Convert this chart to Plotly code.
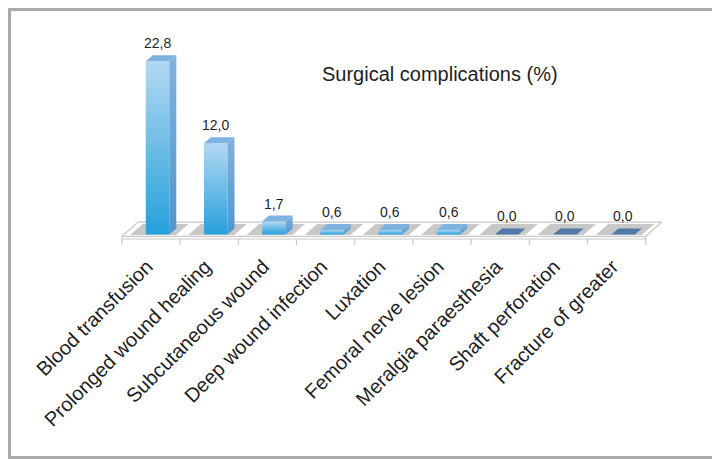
import plotly.graph_objects as go

categories = ["Blood transfusion", "Prolonged wound healing", "Subcutaneous wound",
              "Deep wound infection", "Luxation", "Femoral nerve lesion",
              "Meralgia paraesthesia", "Shaft perforation", "Fracture of greater"]
values = [22.8, 12.0, 1.7, 0.6, 0.6, 0.6, 0.0, 0.0, 0.0]
value_text = [("%.1f" % v).replace('.', ',') for v in values]

# 3d look, in axis units
bar_x0 = -0.09
bar_w = 0.405
dep_x = 0.12
dep_y = 0.79

# the page puts the figure 8px in from the top left corner
W, H = 712, 451
ML, MT, PW, PH = 92, 22, 600, 220

if __name__ == '__main__':

    fig = go.Figure()
    n = len(categories)

    # floor slab
    fl_front_top = -0.26
    fl_front_bot = -0.59
    fl_back = 1.64
    fl_shift = 0.275
    fig.add_trace(go.Scatter(
        x=[-0.5, n - 0.5, n - 0.5, n - 0.5 + fl_shift, -0.5 + fl_shift, -0.5, -0.5, None, -0.5, n - 0.5],
        y=[fl_front_bot, fl_front_bot, fl_front_top, fl_back, fl_back, fl_front_top, fl_front_bot, None,
           fl_front_top, fl_front_top],
        mode='lines', line=dict(color='rgb(200,200,200)', width=1.2),
        fill='toself', fillcolor='white', showlegend=False, hoverinfo='skip'))

    # tick marks on the front edge
    tx, ty = [], []
    for k in range(n + 1):
        tx += [k - 0.5, k - 0.5, None]
        ty += [fl_front_bot, fl_front_bot - 0.8, None]
    fig.add_trace(go.Scatter(x=tx, y=ty, mode='lines', line=dict(color='rgb(200,200,200)', width=1.2),
                             showlegend=False, hoverinfo='skip'))

    # grey tile under each category
    t_front = -0.07
    t_back = 1.38
    t_shift = 0.216
    gx, gy = [], []
    for i in range(n):
        a, b = i - 0.36, i + 0.43
        gx += [a, b, b + t_shift, a + t_shift, a, None]
        gy += [t_front, t_front, t_back, t_back, t_front, None]
    fig.add_trace(go.Scatter(x=gx, y=gy, mode='lines', line=dict(width=0),
                             fill='toself', fillcolor='rgb(200,200,200)', showlegend=False, hoverinfo='skip'))

    for i, v in enumerate(values):
        x0 = i + bar_x0
        x1 = x0 + bar_w
        if v > 0:
            # front
            fig.add_trace(go.Scatter(
                x=[x0, x1, x1, x0, x0], y=[0, 0, v, v, 0],
                mode='lines', line=dict(width=0), fill='toself',
                fillgradient=dict(type='vertical',
                                  colorscale=[[0, 'rgb(38,160,219)'], [1, 'rgb(178,216,242)']]),
                showlegend=False, hoverinfo='skip'))
            # side
            fig.add_trace(go.Scatter(
                x=[x1, x1 + dep_x, x1 + dep_x, x1, x1], y=[0, dep_y, v + dep_y, v, 0],
                mode='lines', line=dict(width=0), fill='toself',
                fillgradient=dict(type='vertical',
                                  colorscale=[[0, 'rgb(80,150,205)'], [1, 'rgb(130,178,222)']]),
                showlegend=False, hoverinfo='skip'))
            top_col = 'rgb(125,178,225)'
        else:
            top_col = 'rgb(79,121,166)'
        # top
        fig.add_trace(go.Scatter(
            x=[x0, x1, x1 + dep_x, x0 + dep_x, x0], y=[v, v, v + dep_y, v + dep_y, v],
            mode='lines', line=dict(width=0), fill='toself', fillcolor=top_col,
            showlegend=False, hoverinfo='skip'))

        fig.add_annotation(x=x0 + bar_w / 2, y=v, text=value_text[i], showarrow=False,
                           yanchor='bottom', yshift=8 if v > 0 else 9,
                           font=dict(size=14, color='rgb(30,30,30)'))

    # title, placed in paper units of the plot area (ref pixel 440, 74)
    fig.add_annotation(x=(440 - 8 - ML) / PW, y=(MT + PH - (74 - 8)) / PH, xref='paper', yref='paper',
                       xanchor='center', yanchor='middle',
                       text='Surgical complications (%)',
                       showarrow=False, font=dict(size=20, color='rgb(30,30,30)'))

    # outer frame
    fig.add_shape(type='rect', xref='paper', yref='paper',
                  x0=(-ML + 1.5) / PW, x1=(W - ML - 1.5) / PW,
                  y0=(-(H - MT - PH) + 1.5) / PH, y1=(PH + MT - 1.5) / PH,
                  line=dict(color='rgb(170,170,170)', width=3))

    fig.update_layout(
        width=W, height=H,
        margin=dict(l=ML, r=W - ML - PW, t=MT, b=H - MT - PH, autoexpand=False),
        paper_bgcolor='white', plot_bgcolor='white',
        font=dict(family='Liberation Sans, Arial, sans-serif', color='rgb(30,30,30)'),
        xaxis=dict(range=[-0.876, 9.433], tickmode='array', tickvals=list(range(n)), ticktext=categories,
                   tickangle=-45, tickfont=dict(size=20), showgrid=False, zeroline=False,
                   showline=False, ticks='', automargin=False, ticklabelshift=-4),
        yaxis=dict(range=[-2.04, 26.91], visible=False, showgrid=False, zeroline=False, automargin=False),
    )

    fig.write_html("out.html")
